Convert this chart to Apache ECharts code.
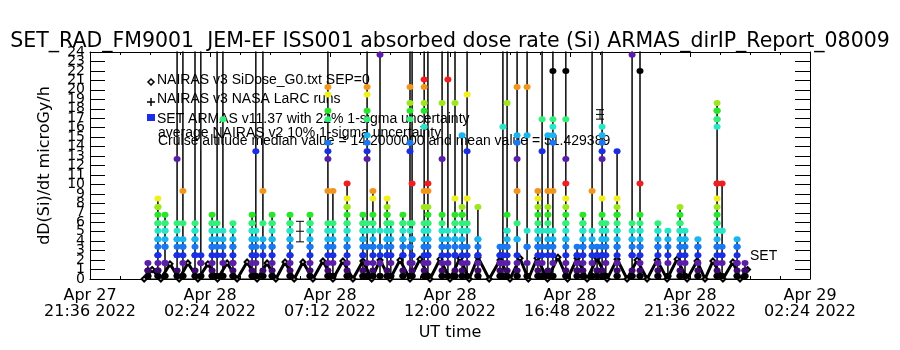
<!DOCTYPE html>
<html>
<head>
<meta charset="utf-8">
<script src="https://cdn.jsdelivr.net/npm/echarts@6/dist/echarts.min.js"></script>
<style>
  html, body { margin: 0; padding: 0; background: #fff; }
  #chart { width: 900px; height: 350px; }
</style>
</head>
<body>
<div id="chart"></div>
<script>
// time in minutes after 2022-04-27 21:36 UT
const baseTime = Date.UTC(2022, 3, 27, 21, 36)
const monthNames = ['Jan', 'Feb', 'Mar', 'Apr', 'May', 'Jun', 'Jul', 'Aug', 'Sep', 'Oct', 'Nov', 'Dec']

// SET ARMAS columns: time of each pass and the dose rates read in that pass
const armasColTimes = [139, 163, 180, 209, 223, 252, 266, 293, 305, 319, 343, 389, 398, 415, 437, 480, 528, 571, 583, 617,
  655, 665, 679, 696, 713, 722, 751, 768, 773, 802, 811, 845, 859, 876, 893, 905, 931, 984, 991, 1001,
  1025, 1049, 1075, 1085, 1099, 1111, 1142, 1169, 1183, 1205, 1217, 1229, 1238, 1265, 1301, 1320, 1363, 1387, 1416, 1428,
  1459, 1505, 1517, 1553, 1572]
const armasColValues = [
  [0, 0.9, 1.7, 0.9, 0],
  [0, 0.9, 1.7, 2.5, 3.4, 4.2, 5.1, 5.9, 6.8, 7.6, 8.5, 7.6, 5.9, 4.2, 2.5, 0.9, 0],
  [0, 1.7, 3.4, 4.2, 5.1, 5.9, 6.8, 5.9, 5.1, 3.4, 1.7, 0],
  [0, 0.9, 2.5, 3.4, 4.2, 5.1, 5.9, 12.7, 60, 4.2, 2.5, 0],
  [0, 1.7, 2.5, 3.4, 4.2, 9.3, 80, 5.9, 3.4, 0],
  [0, 0.9, 2.5, 3.4, 4.2, 5.1, 5.9, 60, 5.1, 4.2, 2.5, 0],
  [0, 1.7, 2.5, 50, 1.7, 0],
  [0, 0.9, 2.5, 3.4, 4.2, 5.1, 5.9, 6.8, 5.9, 5.1, 3.4, 1.7, 0],
  [0, 2.5, 4.2, 5.9, 70, 5.1, 3.4, 0],
  [0, 1.7, 3.4, 5.1, 16.9, 70, 4.2, 2.5, 0],
  [0, 0.9, 1.7, 2.5, 3.4, 4.2, 5.1, 5.9, 5.1, 3.4, 1.7, 0],
  [0, 0.9, 2.5, 3.4, 4.2, 5.1, 5.9, 6.8, 5.9, 5.1, 4.2, 3.4, 1.7, 0],
  [0, 1.7, 3.4, 5.1, 13.5, 60, 4.2, 2.5, 0],
  [0, 0.9, 2.5, 4.2, 9.3, 70, 5.9, 3.4, 0],
  [0, 0.9, 2.5, 3.4, 4.2, 5.1, 5.9, 6.8, 5.9, 4.2, 3.4, 1.7, 0],
  [0, 0.9, 1.7, 2.5, 3.4, 4.2, 5.1, 5.9, 6.8, 5.9, 5.1, 4.2, 2.5, 0],
  [0, 0.9, 2.5, 3.4, 4.2, 5.1, 5.9, 6.8, 5.9, 5.1, 3.4, 1.7, 0],
  [0, 0.9, 2.5, 3.4, 4.2, 5.1, 5.9, 9.3, 12.7, 13.5, 14.4, 16.9, 17.8, 19.5, 20.3, 80, 5.1, 3.4, 1.7, 0],
  [0, 1.7, 3.4, 5.1, 9.3, 5.9, 4.2, 2.5, 0],
  [0, 0.9, 2.5, 3.4, 4.2, 5.1, 5.9, 6.8, 7.6, 8.5, 10.1, 7.6, 5.9, 5.1, 3.4, 1.7, 0],
  [0, 0.9, 2.5, 3.4, 4.2, 5.1, 5.9, 6.8, 5.9, 5.1, 4.2, 2.5, 0],
  [0, 1.7, 3.4, 5.1, 12.7, 13.5, 14.4, 15.2, 16.9, 17.8, 19.5, 20.3, 90, 5.9, 3.4, 0],
  [0, 0.9, 2.5, 3.4, 4.2, 5.1, 5.9, 8.5, 9.3, 6.8, 5.1, 3.4, 1.7, 0],
  [0, 1.7, 3.4, 23.7, 90, 5.1, 2.5, 0],
  [0, 0.9, 2.5, 3.4, 4.2, 5.1, 5.9, 6.8, 7.6, 8.5, 6.8, 5.9, 5.1, 4.2, 2.5, 0],
  [0, 1.7, 3.4, 5.1, 5.9, 4.2, 2.5, 0],
  [0, 0.9, 2.5, 3.4, 4.2, 5.1, 5.9, 6.8, 5.9, 4.2, 2.5, 0],
  [0, 1.7, 3.4, 5.1, 13.5, 14.4, 16.9, 17.8, 18.6, 20.3, 90, 5.9, 3.4, 0],
  [0, 0.9, 2.5, 4.2, 5.9, 10.1, 80, 4.2, 1.7, 0],
  [0, 0.9, 2.5, 3.4, 4.2, 5.1, 5.9, 7.6, 9.3, 16.1, 17.8, 18.6, 20.3, 21.1, 90, 5.1, 3.4, 1.7, 0],
  [0, 1.7, 2.5, 3.4, 4.2, 5.1, 5.9, 6.8, 7.6, 9.3, 10.1, 80, 5.9, 4.2, 2.5, 0],
  [0, 0.9, 2.5, 3.4, 4.2, 5.1, 5.9, 6.8, 12.7, 18.6, 70, 5.1, 3.4, 1.7, 0],
  [0, 1.7, 3.4, 5.1, 21.1, 80, 4.2, 2.5, 0],
  [0, 0.9, 2.5, 3.4, 4.2, 5.1, 5.9, 6.8, 8.5, 18.6, 60, 5.9, 4.2, 2.5, 0],
  [0, 0.9, 2.5, 3.4, 4.2, 5.1, 5.9, 6.8, 7.6, 15.2, 6.8, 5.1, 3.4, 1.7, 0],
  [0, 1.7, 3.4, 5.1, 5.9, 8.5, 13.5, 19.5, 80, 5.1, 2.5, 0],
  [0, 0.9, 1.7, 2.5, 3.4, 4.2, 7.6, 4.2, 2.5, 0],
  [0, 0.9, 1.7, 2.5, 3.4, 2.5, 1.7, 0],
  [0, 1.7, 3.4, 16.1, 70, 2.5, 0],
  [0, 0.9, 2.5, 3.4, 4.2, 5.1, 6.8, 18.6, 80, 5.1, 3.4, 1.7, 0],
  [0, 0.9, 2.5, 4.2, 5.9, 9.3, 12.7, 14.4, 15.2, 20.3, 90, 4.2, 1.7, 0],
  [0, 1.7, 3.4, 5.1, 15.2, 20.3, 90, 3.4, 0],
  [0, 0.9, 2.5, 3.4, 4.2, 5.1, 5.9, 7.6, 8.5, 9.3, 6.8, 5.1, 3.4, 1.7, 0],
  [0, 1.7, 3.4, 13.5, 16.9, 70, 5.1, 2.5, 0],
  [0, 0.9, 2.5, 3.4, 4.2, 5.1, 5.9, 6.8, 9.3, 15.2, 7.6, 5.1, 3.4, 0],
  [0, 1.7, 3.4, 5.1, 9.3, 14.4, 15.2, 16.1, 16.9, 22.0, 90, 4.2, 2.5, 0],
  [0, 0.9, 2.5, 3.4, 4.2, 5.1, 5.9, 6.8, 7.6, 8.5, 10.1, 12.7, 16.9, 22.0, 90, 5.9, 4.2, 1.7, 0],
  [0, 0.9, 1.7, 2.5, 3.4, 2.5, 0.9, 0],
  [0, 0.9, 2.5, 3.4, 4.2, 5.1, 5.9, 6.8, 5.9, 5.1, 3.4, 1.7, 0],
  [0, 1.7, 3.4, 5.1, 9.3, 80, 4.2, 2.5, 0],
  [0, 0.9, 2.5, 3.4, 2.5, 0.9, 0],
  [0, 0.9, 2.5, 3.4, 4.2, 5.1, 5.9, 6.8, 8.5, 12.7, 13.5, 14.4, 15.2, 16.1, 70, 5.9, 4.2, 2.5, 0],
  [0, 1.7, 3.4, 5.1, 5.9, 4.2, 2.5, 0],
  [0, 0.9, 2.5, 3.4, 4.2, 5.1, 5.9, 6.8, 7.6, 8.5, 13.5, 6.8, 5.1, 3.4, 1.7, 0],
  [0, 0.9, 2.5, 3.4, 4.2, 5.1, 5.9, 23.7, 90, 4.2, 2.5, 0],
  [0, 0.9, 2.5, 3.4, 4.2, 5.1, 5.9, 6.8, 10.1, 22.0, 90, 5.1, 3.4, 1.7, 0],
  [0, 0.9, 2.5, 3.4, 4.2, 5.1, 5.9, 5.1, 3.4, 1.7, 0],
  [0, 1.7, 3.4, 5.1, 4.2, 2.5, 0],
  [0, 0.9, 2.5, 3.4, 4.2, 5.1, 5.9, 6.8, 7.6, 5.9, 5.1, 3.4, 1.7, 0],
  [0, 1.7, 3.4, 4.2, 5.1, 4.2, 2.5, 0],
  [0, 0.9, 2.5, 3.4, 4.2, 3.4, 1.7, 0],
  [0, 0.9, 2.5, 3.4, 4.2, 5.1, 5.9, 6.8, 7.6, 8.5, 10.1, 16.1, 16.9, 17.8, 18.6, 17.8, 16.9, 10.1, 5.9, 3.4, 1.7, 0],
  [0, 1.7, 3.4, 5.1, 10.1, 5.1, 2.5, 0],
  [0, 0.9, 1.7, 2.5, 3.4, 4.2, 3.4, 1.7, 0],
  [0, 0.9, 1.7, 0.9, 0]
]

// NAIRAS v3 SiDose model: orbit peaks and the minima between them
const nairasTimes = [130, 149, 170, 192, 214, 235, 259, 283, 306, 329, 353, 377, 401, 425, 446, 468, 490, 511, 535,
  559, 583, 607, 631, 655, 676, 696, 720, 744, 768, 792, 816, 840, 864, 888, 910, 931, 958, 984, 1008, 1032,
  1052, 1073, 1098, 1123, 1146, 1169, 1193, 1217, 1241, 1265, 1289, 1313, 1337, 1361, 1385, 1409, 1433, 1457,
  1476, 1495, 1519, 1543, 1560, 1578]
const nairasValues = [0, 1.0, 0, 1.6, 0, 1.7, 0, 1.6, 0, 1.7, 0, 1.8, 0, 1.7, 0, 1.8, 0, 1.8, 0,
  1.9, 0, 1.9, 0, 1.9, 0, 2.0, 0, 2.0, 0, 2.1, 0, 2.1, 0, 2.2, 0, 2.3, 0, 2.0, 0, 2.2,
  0, 2.2, 0, 2.3, 0, 2.2, 0, 2.2, 0, 2.1, 0, 2.0, 0, 2.0, 0, 2.1, 0, 1.9,
  0, 1.9, 0, 1.8, 0, 1.0]

// NASA LaRC runs: time, value, low, high
const larcTimes = [504, 1224]
const larcValues = [5.05, 17.4]
const larcLow = [3.93, 16.9]
const larcHigh = [6.1, 17.9]

// colour table of the dose-rate steps (13 steps, repeating)
const stepColors = ['#000000', '#3c0a6e', '#5a1ea8', '#1a2ee6', '#1a78f0', '#1ab4f0', '#28e6c8',
  '#32f07a', '#28e628', '#9ee61e', '#f0f01e', '#f0961e', '#f01e1e']
const stepSize = 0.845

const armasData = []
armasColTimes.forEach((t, i) => {
  armasColValues[i].forEach(v => {
    const item = {
      value: [t, v],
      itemStyle: { color: stepColors[Math.round(v / stepSize) % 13] }
    }
    if (v === 0) item.symbolOffset = [0, -3]
    armasData.push(item)
  })
})
const nairasData = nairasTimes.map((t, i) => [t, nairasValues[i]])
const larcData = larcTimes.map((t, i) => [t, larcValues[i], larcLow[i], larcHigh[i]])

function timeLabel (v) {
  const d = new Date(baseTime + v * 60000)
  const p = n => (n < 10 ? '0' : '') + n
  return monthNames[d.getUTCMonth()] + ' ' + d.getUTCDate() + '\n' +
    p(d.getUTCHours()) + ':' + p(d.getUTCMinutes()) + ' ' + d.getUTCFullYear()
}

const font = 'DejaVu Sans'
const legendFont = '14px "Liberation Sans"'

const xCommon = {
  type: 'value',
  min: 0,
  max: 1728,
  interval: 288,
  axisLine: { onZero: false, lineStyle: { color: '#000', width: 1 } },
  axisTick: { inside: true, length: 5, lineStyle: { color: '#000' } },
  minorTick: { show: true, splitNumber: 4, length: 3, lineStyle: { color: '#000' } },
  splitLine: { show: false }
}
const yCommon = {
  type: 'value',
  min: 0,
  max: 24,
  interval: 1,
  axisLine: { show: true, onZero: false, lineStyle: { color: '#000', width: 1 } },
  axisTick: { show: true, inside: true, length: 15, lineStyle: { color: '#000' } },
  splitLine: { show: false }
}
// y tick labels are split over two axes (even / odd) so all of them get drawn
const yLabel = (keepOdd) => ({
  showMinLabel: true,
  showMaxLabel: true,
  hideOverlap: false,
  fontFamily: font,
  fontSize: 14,
  color: '#000',
  margin: 5,
  formatter: v => ((v % 2 === 1) === keepOdd ? String(v) : '')
})

const chart = echarts.init(document.getElementById('chart'))
chart.setOption({
  animation: false,
  backgroundColor: '#fff',
  title: {
    text: 'SET_RAD_FM9001  JEM-EF ISS001 absorbed dose rate (Si) ARMAS_dirIP_Report_08009',
    left: 'center',
    top: 26,
    textStyle: { fontFamily: font, fontSize: 20.5, fontWeight: 'normal', color: '#000' }
  },
  grid: { left: 90, right: 90, top: 52, bottom: 71 },
  xAxis: [
    Object.assign({}, xCommon, {
      position: 'bottom',
      name: 'UT time',
      nameLocation: 'middle',
      nameGap: 44,
      nameTextStyle: { fontFamily: font, fontSize: 16, color: '#000' },
      axisLabel: {
        formatter: timeLabel,
        fontFamily: font,
        fontSize: 16,
        lineHeight: 16,
        color: '#000',
        margin: 9,
        showMinLabel: true,
        showMaxLabel: true
      }
    }),
    Object.assign({}, xCommon, { position: 'top', axisLabel: { show: false } })
  ],
  yAxis: [
    Object.assign({}, yCommon, {
      position: 'left',
      name: 'dD(Si)/dt microGy/h',
      nameLocation: 'middle',
      nameGap: 37,
      nameTextStyle: { fontFamily: font, fontSize: 16, color: '#000' },
      axisLabel: yLabel(false)
    }),
    Object.assign({}, yCommon, { position: 'right', axisLabel: { show: false } }),
    Object.assign({}, yCommon, {
      position: 'left',
      offset: 0,
      axisLine: { show: false },
      axisTick: { show: false },
      axisLabel: yLabel(true)
    })
  ],
  series: [
    {
      name: 'NAIRAS v3 SiDose',
      type: 'line',
      data: nairasData,
      color: '#000',
      lineStyle: { color: '#000', width: 3 },
      symbol: 'emptyDiamond',
      symbolSize: 5,
      showAllSymbol: true,
      itemStyle: { color: '#000', borderColor: '#000' },
      z: 2
    },
    {
      name: 'SET ARMAS',
      type: 'line',
      data: armasData,
      color: '#000',
      lineStyle: { color: '#000', width: 1 },
      symbol: 'circle',
      symbolSize: [7, 6],
      showAllSymbol: true,
      z: 3
    },
    {
      name: 'NASA LaRC',
      type: 'custom',
      data: larcData,
      z: 4,
      renderItem: (params, api) => {
        const c = api.coord([api.value(0), api.value(1)])
        const lo = api.coord([api.value(0), api.value(2)])
        const hi = api.coord([api.value(0), api.value(3)])
        const s = { stroke: '#000', lineWidth: 1 }
        return {
          type: 'group',
          children: [
            { type: 'line', shape: { x1: c[0], y1: lo[1], x2: c[0], y2: hi[1] }, style: s },
            { type: 'line', shape: { x1: c[0] - 4, y1: lo[1], x2: c[0] + 4, y2: lo[1] }, style: s },
            { type: 'line', shape: { x1: c[0] - 4, y1: hi[1], x2: c[0] + 4, y2: hi[1] }, style: s },
            { type: 'line', shape: { x1: c[0] - 4, y1: c[1], x2: c[0] + 4, y2: c[1] }, style: s }
          ]
        }
      }
    }
  ],
  graphic: [
    { type: 'polygon', shape: { points: [[151, 79], [154, 82], [151, 85], [148, 82]] }, style: { fill: '#fff', stroke: '#000', lineWidth: 1.5 } },
    { type: 'text', x: 157, y: 80, style: { text: 'NAIRAS v3 SiDose_G0.txt SEP=0', font: legendFont, fill: '#000', verticalAlign: 'middle' } },
    { type: 'line', shape: { x1: 147, y1: 102, x2: 155, y2: 102 }, style: { stroke: '#000', lineWidth: 1.5 } },
    { type: 'line', shape: { x1: 151, y1: 98, x2: 151, y2: 106 }, style: { stroke: '#000', lineWidth: 1.5 } },
    { type: 'text', x: 157, y: 99, style: { text: 'NAIRAS v3 NASA LaRC runs', font: legendFont, fill: '#000', verticalAlign: 'middle' } },
    { type: 'rect', shape: { x: 147, y: 114, width: 8, height: 7 }, style: { fill: '#1a2ee6' } },
    { type: 'text', x: 157, y: 119, style: { text: 'SET ARMAS v11.37 with 22% 1-sigma uncertainty', font: legendFont, fill: '#000', verticalAlign: 'middle' } },
    { type: 'text', x: 158, y: 133, style: { text: 'average NAIRAS v2 10% 1-sigma uncertainty', font: legendFont, fill: '#000', verticalAlign: 'middle' } },
    { type: 'text', x: 158, y: 141, style: { text: 'Cruise altitude median value = 14.2000000 and mean value = 51.429389', font: legendFont, fill: '#000', verticalAlign: 'middle' } },
    { type: 'text', x: 750, y: 256, style: { text: 'SET', font: legendFont, fill: '#000', verticalAlign: 'middle' } }
  ]
})
</script>
</body>
</html>
